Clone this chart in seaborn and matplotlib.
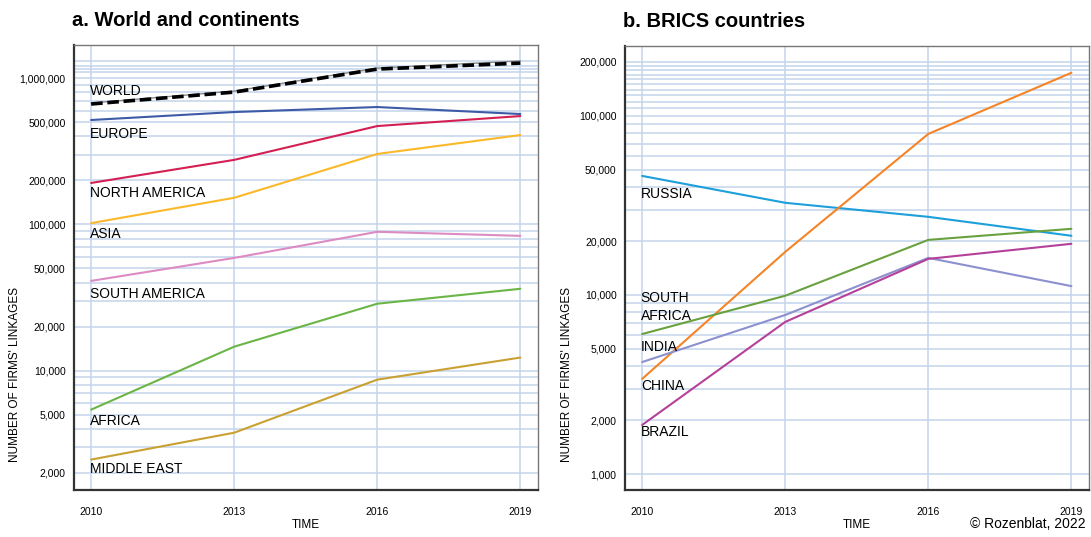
import numpy as np
import pandas as pd
import matplotlib
matplotlib.use("Agg")
import matplotlib.pyplot as plt
from matplotlib.ticker import FixedLocator, FuncFormatter
import seaborn as sns

years = [2010, 2013, 2016, 2019]

# panel a: world and continents
world = [665000, 802000, 1152000, 1266000]
world_alt = [675000, 815000, 1170000, 1310000]
europe = [517000, 586000, 634000, 568000]
north_america = [192000, 276000, 470000, 550000]
asia = [102000, 152000, 303000, 408000]
south_america = [41100, 59000, 89000, 83500]
africa = [5420, 14600, 28700, 36300]
middle_east = [2470, 3770, 8690, 12300]

# panel b: BRICS
russia = [46200, 32700, 27300, 21400]
china = [3400, 17400, 79300, 174000]
south_africa = [6050, 9900, 20300, 23400]
india = [4220, 7730, 16100, 11200]
brazil = [1880, 7070, 15900, 19300]

left_names = ["WORLD", "EUROPE", "NORTH AMERICA", "ASIA", "SOUTH AMERICA", "AFRICA", "MIDDLE EAST"]
left_series = [world, europe, north_america, asia, south_america, africa, middle_east]
left_colors = ["black", "#3d5aa6", "#d41f52", "#fbb82b", "#dc8bc3", "#6bb546", "#c9a132"]
left_dy = [13, -14, -10, -11, -13, -11, -9]   # label offset in px (positive = up)

right_names = ["RUSSIA", "CHINA", "SOUTH\nAFRICA", "INDIA", "BRAZIL"]
right_series = [russia, china, south_africa, india, brazil]
right_colors = ["#1d9fda", "#f58427", "#6aa13f", "#8c90cf", "#b5409a"]
right_dy = [-18, -7, 27, 15, -7]

left_major = [2000, 5000, 10000, 20000, 50000, 100000, 200000, 500000, 1000000]
right_major = [1000, 2000, 5000, 10000, 20000, 50000, 100000, 200000]

left_grid = [k * 10 ** n for n in range(3, 6) for k in range(1, 10)] + [1000000, 1100000, 1150000, 1200000, 1300000]
right_grid = [k * 10 ** n for n in range(3, 5) for k in range(1, 10)] + [100000 + 10000 * k for k in range(11)]

sns.set_style("white")
plt.rcParams["font.family"] = ["Liberation Sans", "DejaVu Sans"]
plt.rcParams["text.color"] = "black"
plt.rcParams["axes.labelcolor"] = "black"
plt.rcParams["xtick.color"] = "black"
plt.rcParams["ytick.color"] = "black"

grid_c = "#c3d5ec"
fig = plt.figure(figsize=(10.91, 5.37), dpi=100)
axa = fig.add_axes([0.0678, 0.0875, 0.4253, 0.8285])
axb = fig.add_axes([0.5729, 0.0875, 0.4253, 0.8265])

def fmt(v, pos):
    return "{:,}".format(int(round(v)))

def style_axis(ax, major, grid, ylim, title, ylab_x):
    ax.set_yscale("log")
    ax.set_ylim(*ylim)
    ax.set_xlim(2009.64, 2019.37)
    ax.yaxis.set_major_locator(FixedLocator(major))
    ax.yaxis.set_major_formatter(FuncFormatter(fmt))
    ax.yaxis.set_minor_locator(FixedLocator([g for g in grid if g not in major]))
    ax.yaxis.set_minor_formatter(FuncFormatter(lambda v, p: ""))
    ax.set_xticks(years)
    ax.set_xticklabels([str(y) for y in years])
    ax.tick_params(axis="y", which="major", length=4, width=1, color="#222", labelsize=7.5, pad=2)
    ax.tick_params(axis="y", which="minor", length=0)
    ax.tick_params(axis="x", length=5.5, width=1, color="#222", labelsize=7.5, pad=7)
    ax.grid(True, which="both", axis="y", color=grid_c, lw=1.1)
    ax.grid(True, which="major", axis="x", color=grid_c, lw=1.1)
    ax.set_axisbelow(True)
    for s in ["left", "bottom"]:
        ax.spines[s].set_color("#333")
        ax.spines[s].set_linewidth(1.6)
    for s in ["top", "right"]:
        ax.spines[s].set_color("#777")
        ax.spines[s].set_linewidth(1.0)
    ax.set_xlabel("TIME", fontsize=8.5, labelpad=1)
    ax.set_ylabel("NUMBER OF FIRMS' LINKAGES", fontsize=8.5, labelpad=4)
    ax.yaxis.set_label_coords(ylab_x, 0.26)
    ax.set_title(title, loc="left", fontsize=14.5, fontweight="bold", pad=14, x=-0.004)

style_axis(axa, left_major, left_grid, (1530, 1680000), "a. World and continents", -0.115)
style_axis(axb, right_major, right_grid, (814, 245000), "b. BRICS countries", -0.112)

# panel a lines
sns.lineplot(x=years, y=world_alt, ax=axa, color="#8a8a8a", lw=1.0)
for name, vals, col, dy in zip(left_names, left_series, left_colors, left_dy):
    if name == "WORLD":
        sns.lineplot(x=years, y=vals, ax=axa, color=col, lw=2.6)
        axa.lines[-1].set_dashes((3.2, 1.3))
    else:
        sns.lineplot(x=years, y=vals, ax=axa, color=col, lw=1.5)
    axa.annotate(name, xy=(years[0], vals[0]), xytext=(-1, dy * 0.72), textcoords="offset points",
                 ha="left", va="center", fontsize=10)

# panel b lines
for name, vals, col, dy in zip(right_names, right_series, right_colors, right_dy):
    sns.lineplot(x=years, y=vals, ax=axb, color=col, lw=1.5)
    axb.annotate(name, xy=(years[0], vals[0]), xytext=(-1, dy * 0.72), textcoords="offset points",
                 ha="left", va="center", fontsize=10, linespacing=1.35)

fig.text(0.995, 0.012, "\u00a9 Rozenblat, 2022", ha="right", va="bottom", fontsize=10)

fig.savefig("out.png", dpi=100)
